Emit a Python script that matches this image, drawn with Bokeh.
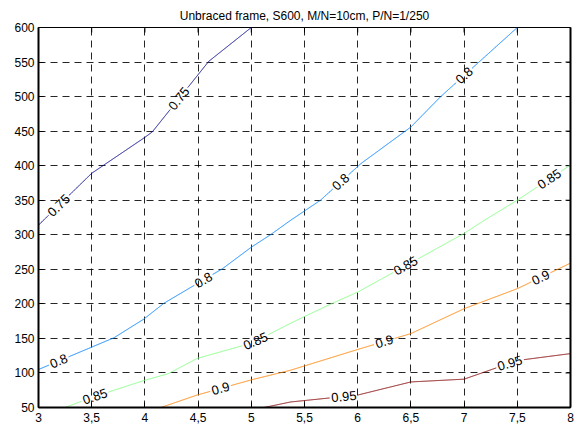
import numpy as np
from bokeh.plotting import figure
from bokeh.models import FixedTicker, LinearAxis, Range1d
from bokeh.core.properties import value
from bokeh.embed import file_html
from bokeh.resources import INLINE

# ---------------- data ----------------
title_text = "Unbraced frame, S600, M/N=10cm, P/N=1/250"
x_ticks = [3, 3.5, 4, 4.5, 5, 5.5, 6, 6.5, 7, 7.5, 8]
x_tick_labels = ["3", "3,5", "4", "4,5", "5", "5,5", "6", "6,5", "7", "7,5", "8"]
y_ticks = [50, 100, 150, 200, 250, 300, 350, 400, 450, 500, 550, 600]
y_tick_labels = [str(v) for v in y_ticks]

levels = ["0.75", "0.8", "0.85", "0.9", "0.95"]
level_colors = ["#00008F", "#0080FF", "#80FF80", "#FF8000", "#800000"]

lev075_x = [3.0, 3.5, 4.0, 4.07, 4.6, 5.0]
lev075_y = [314, 389, 441, 449, 551, 600]
lev075_lab_x = [3.19, 4.32]

lev08_x = [3.0, 3.71, 3.99, 4.18, 4.73, 5.0, 5.18, 5.37, 5.65, 6.03, 6.5, 6.78, 7.5]
lev08_y = [105, 151, 178, 201, 251, 282, 300, 321, 350, 403, 456, 500, 600]
lev08_lab_x = [3.19, 4.55, 5.84, 7.0]

lev085_x = [3.25, 3.49, 3.99, 4.22, 4.49, 5.0, 5.37, 5.75, 6.0, 7.0, 7.19, 7.5, 8.0]
lev085_y = [50, 64, 89, 99, 121, 143, 172, 200, 217, 302, 321, 350, 401]
lev085_lab_x = [3.53, 5.04, 6.45, 7.8]

lev09_x = [4.15, 4.49, 5.0, 5.37, 6.0, 6.5, 7.0, 7.5, 8.0]
lev09_y = [50, 68, 90, 104, 134, 157, 193, 222, 259]
lev09_lab_x = [4.71, 6.25, 7.72]

lev095_x = [5.12, 5.37, 6.0, 6.5, 7.0, 7.5, 8.0]
lev095_y = [50, 58, 68, 87, 91, 118, 128]
lev095_lab_x = [5.87, 7.43]

curves_x = [lev075_x, lev08_x, lev085_x, lev09_x, lev095_x]
curves_y = [lev075_y, lev08_y, lev085_y, lev09_y, lev095_y]
curves_lab = [lev075_lab_x, lev08_lab_x, lev085_lab_x, lev09_lab_x, lev095_lab_x]

# ---------------- figure ----------------
X0, X1, Y0, Y1 = 3, 8, 50, 600
FW, FH = 532, 380
SX = FW / (X1 - X0)
SY = FH / (Y1 - Y0)
FS = 13
FONT = "Liberation Sans"

p = figure(width=580, height=433, output_backend="svg", toolbar_location=None,
           x_range=Range1d(X0, X1), y_range=Range1d(Y0, Y1),
           frame_width=FW, frame_height=FH,
           min_border_left=38, min_border_right=10, min_border_top=27, min_border_bottom=26,
           background_fill_color="white", border_fill_color="white")
p.outline_line_color = "black"
p.outline_line_width = 1

p.title.text = title_text
p.title.align = "center"
p.title.text_font = FONT
p.title.text_font_size = "12px"
p.title.text_font_style = "normal"
p.title.text_color = "black"

for ax in (p.xaxis[0], p.yaxis[0]):
    ax.major_tick_in = 5
    ax.major_tick_out = 0
    ax.minor_tick_line_color = None
    ax.axis_line_color = "black"
    ax.axis_line_width = 2
    ax.major_tick_line_color = "black"
    ax.major_label_text_font = FONT
    ax.major_label_text_font_size = "12px"
    ax.major_label_text_color = "black"
p.xaxis.major_label_standoff = 5
p.yaxis.major_label_standoff = 4
p.xaxis.ticker = FixedTicker(ticks=x_ticks)
p.yaxis.ticker = FixedTicker(ticks=y_ticks)
p.xaxis.major_label_overrides = {t: l for t, l in zip(x_ticks, x_tick_labels)}
p.yaxis.major_label_overrides = {t: l for t, l in zip(y_ticks, y_tick_labels)}

# right edge: thick line, no labels
p.add_layout(LinearAxis(ticker=FixedTicker(ticks=[]), axis_line_color="black",
                        axis_line_width=2, major_tick_line_color=None,
                        minor_tick_line_color=None), "right")

# inward tick marks on right and top edges
p.ray(x=[X1] * len(y_ticks), y=y_ticks, length=5, length_units="screen",
      angle=np.pi, line_color="black", line_width=1)
p.ray(x=x_ticks, y=[Y1] * len(x_ticks), length=5, length_units="screen",
      angle=-np.pi / 2, line_color="black", line_width=1)

for g in (p.xgrid[0], p.ygrid[0]):
    g.grid_line_color = "black"
    g.grid_line_alpha = 0.85
    g.grid_line_dash = "7 5"
    g.grid_line_width = 1
p.xgrid.ticker = FixedTicker(ticks=x_ticks)
p.ygrid.ticker = FixedTicker(ticks=y_ticks)


def text_width(s):
    w = 0.0
    for ch in s:
        w += 0.278 if ch == "." else 0.556
    return w * FS


for lev, col, xs, ys, labx in zip(levels, level_colors, curves_x, curves_y, curves_lab):
    xs = np.asarray(xs, float)
    ys = np.asarray(ys, float)
    px = (xs - X0) * SX
    py = (ys - Y0) * SY
    s = np.concatenate([[0.0], np.cumsum(np.hypot(np.diff(px), np.diff(py)))])
    t = np.linspace(0, s[-1], int(s[-1] * 3) + 2)
    dx = np.interp(t, s, xs)
    dy = np.interp(t, s, ys)
    dpx = (dx - X0) * SX
    dpy = (dy - Y0) * SY
    mask = np.zeros(len(t), bool)
    r = text_width(lev) / 2 + 1.5
    lx, ly, la = [], [], []
    for x_l in labx:
        sc = np.interp(x_l, xs, s)
        cx = np.interp(sc, s, px)
        cy = np.interp(sc, s, py)
        mask |= np.hypot(dpx - cx, dpy - cy) < r
        a1 = (np.interp(sc - r, s, px), np.interp(sc - r, s, py))
        a2 = (np.interp(sc + r, s, px), np.interp(sc + r, s, py))
        ang = np.arctan2(a2[1] - a1[1], a2[0] - a1[0])
        lx.append(cx / SX + X0)
        ly.append(cy / SY + Y0)
        la.append(float(ang))
    dx = dx.copy()
    dy = dy.copy()
    dx[mask] = np.nan
    dy[mask] = np.nan
    p.line(dx, dy, line_color=col, line_width=1)
    p.text(lx, ly, text=[lev] * len(lx), angle=la, angle_units="rad",
           text_align="center", text_baseline="middle",
           text_font=value(FONT), text_font_size=f"{FS}px", text_color="black")

open("out.html", "w").write(file_html(p, INLINE))
